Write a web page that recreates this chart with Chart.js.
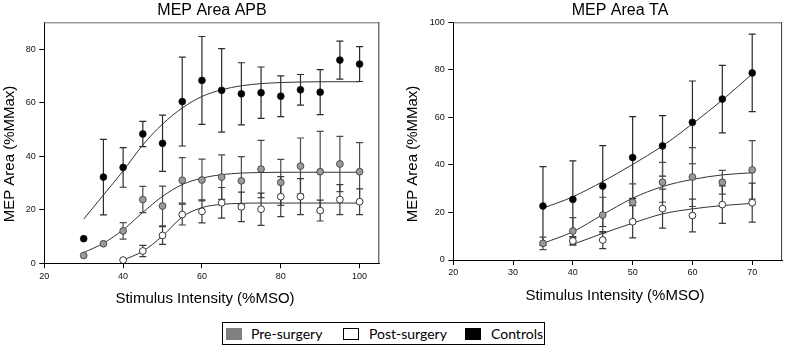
<!DOCTYPE html>
<html><head><meta charset="utf-8">
<script src="https://cdn.jsdelivr.net/npm/chart.js@4.4.1/dist/chart.umd.min.js"></script>
<style>
html,body{margin:0;padding:0;background:#fff;}
body{width:787px;height:349px;overflow:hidden;position:relative;}
#c1{position:absolute;left:0;top:0;}
#c2{position:absolute;left:400px;top:0;}
#legend{position:absolute;left:222px;top:322px;width:321px;height:21px;border:1px solid #000;font-family:Lato,"Open Sans",sans-serif;font-size:14px;color:#000;}
#legend .sq{position:absolute;top:5px;width:16px;height:12px;}
#legend .tx{position:absolute;top:0;line-height:22px;white-space:nowrap;}
</style></head>
<body>
<canvas id="c1" width="400" height="310"></canvas>
<canvas id="c2" width="387" height="310"></canvas>
<div id="legend">
  <div class="sq" style="left:3px;background:#808080;"></div><span class="tx" style="left:28px;">Pre-surgery</span>
  <div class="sq" style="left:120px;background:#fff;border:1px solid #000;width:14px;height:10px;"></div><span class="tx" style="left:146px;">Post-surgery</span>
  <div class="sq" style="left:242px;background:#000;"></div><span class="tx" style="left:268px;">Controls</span>
</div>
<script>
// ---------- Left panel: MEP Area APB ----------
const apbTitle = "MEP Area APB";
const apbX = [30,35,40,45,50,55,60,65,70,75,80,85,90,95,100];
const apbControls = [9.2,32.2,35.8,48.3,44.8,60.4,68.3,64.6,63.3,63.7,62.4,64.8,63.9,75.9,74.4];
const apbControlsErr = [0,14.1,7.4,4.7,10.5,16.6,16.4,15.6,11.6,9.6,7.6,5.7,8.4,7.1,6.5];
const apbPre = [2.9,7.3,12.1,23.8,21.4,31.0,31.1,32.2,30.8,35.2,30.2,36.3,34.2,37.1,34.2];
const apbPreErr = [0,0,3.1,4.9,7.4,8.5,7.8,8.3,9.0,10.7,8.6,10.5,15.1,10.3,10.9];
const apbPostX = [40,45,50,55,60,65,70,75,80,85,90,95,100];
const apbPost = [1.2,4.6,10.4,18.2,19.4,22.6,21.1,20.2,24.9,24.9,19.7,23.8,23.0];
const apbPostErr = [0,2.1,3.3,3.9,4.3,5.7,5.5,6.0,7.5,6.7,3.9,5.6,4.8];
const apbControlsFit = [16.5,25.5,34.5,44.2,52.0,58.0,62.3,64.8,66.3,67.1,67.5,67.7,67.8,67.8,67.8];
const apbPreFit = [4.0,7.5,12.5,19.0,25.0,29.4,31.8,33.1,33.7,33.9,34.0,34.0,34.0,34.0,34.0];
const apbPostFit = [1.2,4.5,10.2,17.3,20.8,22.0,22.4,22.5,22.5,22.5,22.5,22.5,22.5];
const apbXTicks = [20,40,60,80,100];
const apbYTicks = [0,20,40,60,80];

// ---------- Right panel: MEP Area TA ----------
const taTitle = "MEP Area TA";
const taX = [35,40,45,50,55,60,65,70];
const taControls = [22.7,25.5,31.1,43.1,48.0,57.9,67.7,78.7];
const taControlsErr = [16.6,16.2,17.0,17.2,12.7,17.4,14.2,16.3];
const taPre = [7.0,12.2,18.9,24.3,32.7,34.9,32.7,37.9];
const taPreErr = [2.6,5.6,7.5,7.7,8.4,12.4,5.0,12.3];
const taPostX = [40,45,50,55,60,65,70];
const taPost = [8.0,8.4,16.1,21.6,18.7,23.3,24.1];
const taPostErr = [1.8,3.6,6.8,8.2,6.9,7.9,8.2];
const taControlsFit = [21.8,26.6,33.0,40.2,48.0,57.3,67.3,78.3];
const taPreFit = [7.0,11.9,19.1,26.0,30.9,33.9,35.8,36.7];
const taPostFit = [6.6,11.2,15.5,19.4,21.5,22.9,23.8];
const taXTicks = [20,30,40,50,60,70];
const taYTicks = [0,20,40,60,80,100];

const xTitle = "Stimulus Intensity (%MSO)";
const yTitle = "MEP Area (%MMax)";

const FONT = "'Liberation Sans', Arial, Helvetica, sans-serif";
const pts = (xs, ys) => xs.map((x, i) => ({x: x, y: ys[i]}));

const deco = {
  id: 'deco',
  beforeDatasetsDraw(chart) {
    const ctx = chart.ctx, xs = chart.scales.x, ys = chart.scales.y;
    chart.data.datasets.forEach(ds => {
      if (!ds.errors) return;
      ctx.save();
      ctx.strokeStyle = ds.errColor || '#333';
      ctx.lineWidth = 1.2;
      ds.data.forEach((p, i) => {
        const e = ds.errors[i];
        if (!e) return;
        const x = xs.getPixelForValue(p.x);
        const y1 = ys.getPixelForValue(p.y + e);
        const y2 = ys.getPixelForValue(Math.max(0, p.y - e));
        ctx.beginPath();
        ctx.moveTo(x, y1); ctx.lineTo(x, y2);
        ctx.moveTo(x - 3.5, y1); ctx.lineTo(x + 3.5, y1);
        ctx.moveTo(x - 3.5, y2); ctx.lineTo(x + 3.5, y2);
        ctx.stroke();
      });
      ctx.restore();
    });
  },
  afterDraw(chart, args, o) {
    const ctx = chart.ctx, a = chart.chartArea;
    ctx.save();
    ctx.lineWidth = 1;
    ctx.strokeStyle = '#6a6a6a';
    ctx.beginPath(); ctx.moveTo(a.left, a.top + 0.5); ctx.lineTo(a.right, a.top + 0.5); ctx.stroke();
    ctx.strokeStyle = '#333';
    ctx.beginPath(); ctx.moveTo(a.right - 0.5, a.top); ctx.lineTo(a.right - 0.5, a.bottom); ctx.stroke();
    ctx.fillStyle = '#000';
    ctx.textAlign = 'center';
    ctx.textBaseline = 'alphabetic';
    ctx.font = "16px " + FONT;
    ctx.fillText(o.title, o.titleX, o.titleY);
    ctx.font = "15px " + FONT;
    ctx.fillText(o.xTitle, o.xTitleX, o.xTitleY);
    ctx.save();
    ctx.translate(o.yTitleX, o.yTitleY);
    ctx.rotate(-Math.PI / 2);
    ctx.textBaseline = 'middle';
    ctx.fillText(o.yTitle, 0, 0);
    ctx.restore();
    ctx.restore();
  }
};

function makeChart(id, p) {
  const tickFont = {family: FONT, size: 9};
  return new Chart(document.getElementById(id), {
    data: {
      datasets: [
        {type: 'scatter', label: 'Controls', data: pts(p.x, p.ctrl), errors: p.ctrlErr, errColor: '#2a2a2a',
         backgroundColor: '#000', borderColor: '#111', borderWidth: 0.8, pointRadius: 3.4, order: 0},
        {type: 'scatter', label: 'Pre-surgery', data: pts(p.x, p.pre), errors: p.preErr, errColor: '#4a4a4a',
         backgroundColor: '#9a9a9a', borderColor: '#333', borderWidth: 0.8, pointRadius: 3.4, order: 0},
        {type: 'scatter', label: 'Post-surgery', data: pts(p.postX, p.post), errors: p.postErr, errColor: '#3a3a3a',
         backgroundColor: '#fff', borderColor: '#222', borderWidth: 0.9, pointRadius: 3.4, order: 0},
        {type: 'line', label: 'Controls fit', data: pts(p.x, p.ctrlFit), borderColor: '#333', borderWidth: 1,
         pointRadius: 0, cubicInterpolationMode: 'monotone', fill: false, order: 1},
        {type: 'line', label: 'Pre-surgery fit', data: pts(p.x, p.preFit), borderColor: '#333', borderWidth: 1,
         pointRadius: 0, cubicInterpolationMode: 'monotone', fill: false, order: 1},
        {type: 'line', label: 'Post-surgery fit', data: pts(p.postX, p.postFit), borderColor: '#333', borderWidth: 1,
         pointRadius: 0, cubicInterpolationMode: 'monotone', fill: false, order: 1}
      ]
    },
    options: {
      responsive: false, animation: false, devicePixelRatio: 1, events: [],
      layout: {padding: {top: p.padTop, right: p.padRight, left: 0, bottom: 0}},
      plugins: {legend: {display: false}, tooltip: {enabled: false}, title: {display: false},
        deco: {title: p.title, titleX: p.titleX, titleY: 15, xTitle: xTitle, xTitleX: p.xTitleX, xTitleY: p.xTitleY,
               yTitle: yTitle, yTitleX: p.yTitleX, yTitleY: 154}},
      scales: {
        x: {type: 'linear', min: p.xMin, max: p.xMax,
            afterBuildTicks: s => { s.ticks = p.xTicks.map(v => ({value: v})); },
            afterFit: s => { s.height = p.xH; },
            grid: {drawOnChartArea: false, drawTicks: true, tickLength: 5, color: '#000'},
            border: {display: true, color: '#000', width: 1},
            ticks: {font: tickFont, color: '#111', padding: p.xPad, maxRotation: 0}},
        y: {type: 'linear', min: 0, max: p.yMax,
            afterBuildTicks: s => { s.ticks = p.yTicks.map(v => ({value: v})); },
            afterFit: s => { s.width = p.yW; },
            grid: {drawOnChartArea: false, drawTicks: true, tickLength: 5, color: '#000'},
            border: {display: true, color: '#000', width: 1},
            ticks: {font: tickFont, color: '#111', padding: 3.5}}
      }
    },
    plugins: [deco]
  });
}

makeChart('c1', {
  title: apbTitle, titleX: 212, xTitleX: 205, xTitleY: 303, yTitleX: 10,
  x: apbX, ctrl: apbControls, ctrlErr: apbControlsErr, pre: apbPre, preErr: apbPreErr,
  postX: apbPostX, post: apbPost, postErr: apbPostErr,
  ctrlFit: apbControlsFit, preFit: apbPreFit, postFit: apbPostFit,
  xMin: 20, xMax: 105, yMax: 90, xTicks: apbXTicks, yTicks: apbYTicks,
  padTop: 22.3, padRight: 20.7, yW: 44.3, xH: 46.7, xPad: 3
});
makeChart('c2', {
  title: taTitle, titleX: 220, xTitleX: 215, xTitleY: 300, yTitleX: 12.5,
  x: taX, ctrl: taControls, ctrlErr: taControlsErr, pre: taPre, preErr: taPreErr,
  postX: taPostX, post: taPost, postErr: taPostErr,
  ctrlFit: taControlsFit, preFit: taPreFit, postFit: taPostFit,
  xMin: 20, xMax: 75, yMax: 100, xTicks: taXTicks, yTicks: taYTicks,
  padTop: 22.3, padRight: 3, yW: 53.3, xH: 50, xPad: 2.3
});
</script>
</body></html>
